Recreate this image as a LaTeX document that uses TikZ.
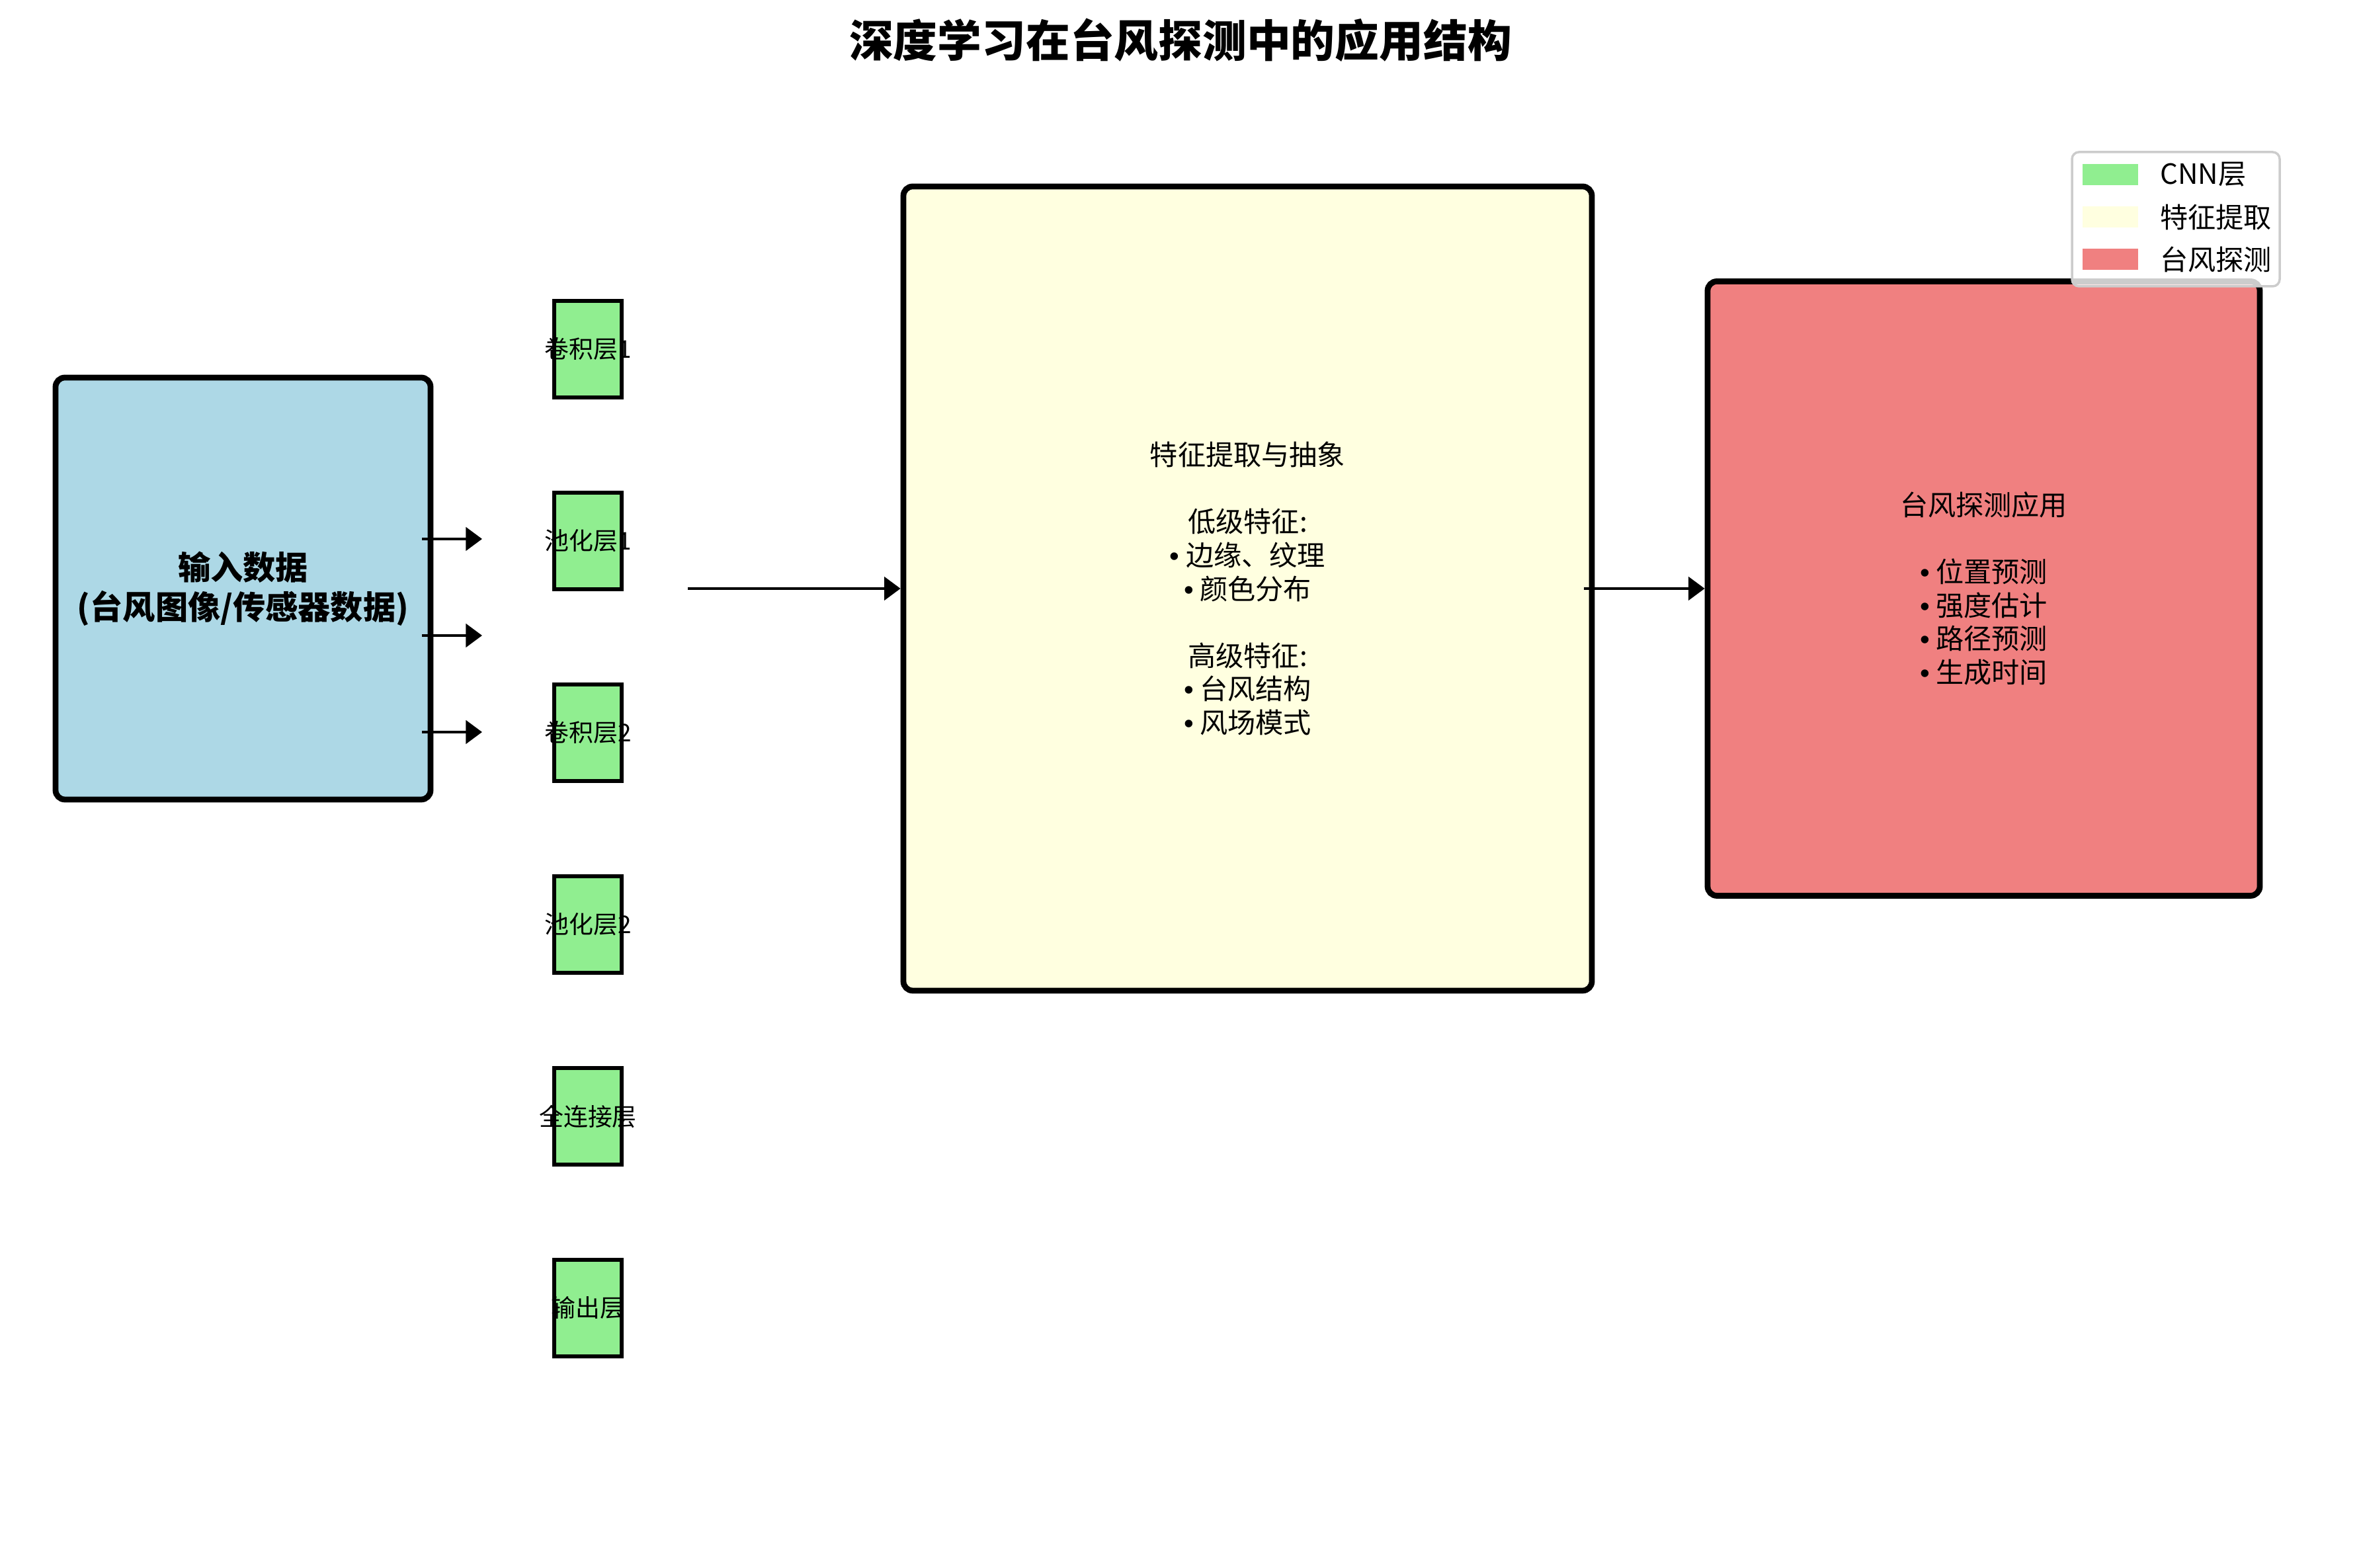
\documentclass[tikz,border=0pt]{standalone}
\usepackage{fontspec}
\setmainfont{Noto Sans CJK SC}
\newfontfamily\bulfont{Liberation Sans}
\usetikzlibrary{shapes, arrows.meta, positioning}
\definecolor{cnngreen}{HTML}{90EE90}
\definecolor{featyellow}{HTML}{FFFFE0}
\definecolor{inblue}{HTML}{ADD8E6}
\definecolor{detred}{HTML}{F08080}
\definecolor{legendgray}{HTML}{CCCCCC}
\tikzstyle{bigbox}=[draw,line width=2.5pt,rounded corners=4pt,align=center]
\tikzstyle{layer}=[draw,line width=1.7pt,fill=cnngreen,minimum width=1.02cm,minimum height=1.46cm,inner sep=0pt]
\tikzstyle{lbl}=[font=\fontsize{10.5}{12}\selectfont,inner sep=0pt]
\tikzstyle{flow}=[-{Triangle[length=7pt,width=10pt]},line width=1.3pt]
\tikzstyle{swatch}=[fill,minimum width=0.84cm,minimum height=0.32cm,inner sep=0pt]
\tikzstyle{every node}=[font=\fontsize{12}{14.4}\selectfont]
\newcommand{\bul}{{\bulfont •} }

\begin{document}
\begin{tikzpicture}[>=latex]
    \useasboundingbox (0,0) rectangle (35.7,23.71);
    \node[font=\fontsize{19}{23}\selectfont\bfseries] (title) at (17.85,23.10) {深度学习在台风探测中的应用结构};
    % input
    \node[bigbox, fill=inblue, minimum width=5.67cm, minimum height=6.38cm, font=\fontsize{14}{17}\selectfont\bfseries] (input) at (3.675,14.81) {输入数据\\(台风图像/传感器数据)};
    % cnn layers
    \node[layer] (conv1) at (8.89,18.43) {};
    \node[layer, below of=conv1, node distance=2.9cm] (pool1) {};
    \node[layer, below of=pool1, node distance=2.9cm] (conv2) {};
    \node[layer, below of=conv2, node distance=2.9cm] (pool2) {};
    \node[layer, below of=pool2, node distance=2.9cm] (fc) {};
    \node[layer, below of=fc, node distance=2.9cm] (out) {};
    \node[lbl] at (conv1) {卷积层1};
    \node[lbl] at (pool1) {池化层1};
    \node[lbl] at (conv2) {卷积层2};
    \node[lbl] at (pool2) {池化层2};
    \node[lbl] at (fc) {全连接层};
    \node[lbl] at (out) {输出层};
    % feature and detection
    \node[bigbox, fill=featyellow, minimum width=10.41cm, minimum height=12.16cm] (feat) at (18.865,14.81) {特征提取与抽象\\[14.4pt]低级特征:\\\bul 边缘、纹理\\\bul 颜色分布\\[14.4pt]高级特征:\\\bul 台风结构\\\bul 风场模式};
    \node[bigbox, fill=detred, minimum width=8.35cm, minimum height=9.29cm] (det) at (29.995,14.81) {台风探测应用\\[14.4pt]\bul 位置预测\\\bul 强度估计\\\bul 路径预测\\\bul 生成时间};
    \coordinate (in1) at (6.38,15.56);
    \coordinate (in1e) at (7.29,15.56);
    \coordinate (in2) at (6.38,14.10);
    \coordinate (in2e) at (7.29,14.10);
    \coordinate (in3) at (6.38,12.64);
    \coordinate (in3e) at (7.29,12.64);
    \coordinate (cnnout) at (10.40,14.81);
    \draw[flow] (in1) -- (in1e);
    \draw[flow] (in2) -- (in2e);
    \draw[flow] (in3) -- (in3e);
    \draw[flow] (cnnout) -- (feat.west);
    \draw[flow] ([xshift=-1.6mm]feat.east) -- (det.west);
    % legend
    \node[draw=legendgray, line width=1pt, rounded corners=3pt, fill=white, fill opacity=0.8, minimum width=3.14cm, minimum height=2.03cm] (legend) at (32.90,20.395) {};
    \node[swatch, cnngreen] (sw1) at (31.91,21.07) {};
    \node[swatch, featyellow] (sw2) at (31.91,20.43) {};
    \node[swatch, detred] (sw3) at (31.91,19.79) {};
    \node[right=0.2cm of sw1] {CNN层};
    \node[right=0.2cm of sw2] {特征提取};
    \node[right=0.2cm of sw3] {台风探测};
\end{tikzpicture}
\end{document}
